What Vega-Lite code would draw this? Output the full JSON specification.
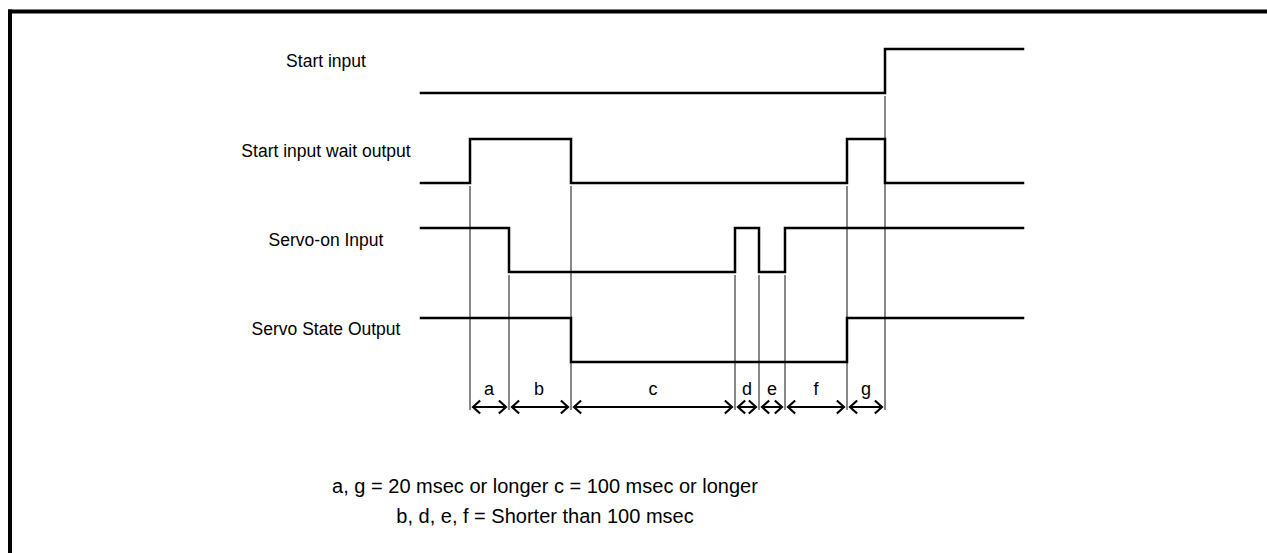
{
  "$schema": "https://vega.github.io/schema/vega-lite/v6.json",
  "width": 1267,
  "height": 553,
  "padding": 0,
  "autosize": {"type": "none"},
  "background": "white",
  "config": {"view": {"stroke": null}},
  "datasets": {
    "signals": [
      {"signal": "Start input", "i": 1, "t": 421, "y": 93},
      {"signal": "Start input", "i": 2, "t": 885, "y": 93},
      {"signal": "Start input", "i": 3, "t": 885, "y": 49},
      {"signal": "Start input", "i": 4, "t": 1023, "y": 49},
      {"signal": "Start input wait output", "i": 1, "t": 421, "y": 183},
      {"signal": "Start input wait output", "i": 2, "t": 470, "y": 183},
      {"signal": "Start input wait output", "i": 3, "t": 470, "y": 139},
      {"signal": "Start input wait output", "i": 4, "t": 571, "y": 139},
      {"signal": "Start input wait output", "i": 5, "t": 571, "y": 183},
      {"signal": "Start input wait output", "i": 6, "t": 847, "y": 183},
      {"signal": "Start input wait output", "i": 7, "t": 847, "y": 139},
      {"signal": "Start input wait output", "i": 8, "t": 885, "y": 139},
      {"signal": "Start input wait output", "i": 9, "t": 885, "y": 183},
      {"signal": "Start input wait output", "i": 10, "t": 1023, "y": 183},
      {"signal": "Servo-on Input", "i": 1, "t": 421, "y": 228},
      {"signal": "Servo-on Input", "i": 2, "t": 509, "y": 228},
      {"signal": "Servo-on Input", "i": 3, "t": 509, "y": 272},
      {"signal": "Servo-on Input", "i": 4, "t": 735, "y": 272},
      {"signal": "Servo-on Input", "i": 5, "t": 735, "y": 228},
      {"signal": "Servo-on Input", "i": 6, "t": 759, "y": 228},
      {"signal": "Servo-on Input", "i": 7, "t": 759, "y": 272},
      {"signal": "Servo-on Input", "i": 8, "t": 785, "y": 272},
      {"signal": "Servo-on Input", "i": 9, "t": 785, "y": 228},
      {"signal": "Servo-on Input", "i": 10, "t": 1023, "y": 228},
      {"signal": "Servo State Output", "i": 1, "t": 421, "y": 318},
      {"signal": "Servo State Output", "i": 2, "t": 571, "y": 318},
      {"signal": "Servo State Output", "i": 3, "t": 571, "y": 362},
      {"signal": "Servo State Output", "i": 4, "t": 847, "y": 362},
      {"signal": "Servo State Output", "i": 5, "t": 847, "y": 318},
      {"signal": "Servo State Output", "i": 6, "t": 1023, "y": 318}
    ],
    "guides": [
      {"t": 470, "y1": 186, "y2": 410},
      {"t": 509, "y1": 275, "y2": 410},
      {"t": 571, "y1": 186, "y2": 410},
      {"t": 735, "y1": 275, "y2": 410},
      {"t": 759, "y1": 275, "y2": 410},
      {"t": 785, "y1": 275, "y2": 410},
      {"t": 847, "y1": 186, "y2": 410},
      {"t": 885, "y1": 96, "y2": 410}
    ],
    "spans": [
      {"label": "a", "t1": 470, "t2": 509, "mid": 489, "y": 407, "ly": 390},
      {"label": "b", "t1": 509, "t2": 571, "mid": 539, "y": 407, "ly": 390},
      {"label": "c", "t1": 571, "t2": 735, "mid": 653, "y": 407, "ly": 390},
      {"label": "d", "t1": 735, "t2": 759, "mid": 747, "y": 407, "ly": 390},
      {"label": "e", "t1": 759, "t2": 785, "mid": 772, "y": 407, "ly": 390},
      {"label": "f", "t1": 785, "t2": 847, "mid": 816, "y": 407, "ly": 390},
      {"label": "g", "t1": 847, "t2": 885, "mid": 866, "y": 407, "ly": 390}
    ],
    "names": [
      {"name": "Start input", "t": 326, "y": 62},
      {"name": "Start input wait output", "t": 326, "y": 152},
      {"name": "Servo-on Input", "t": 326, "y": 241},
      {"name": "Servo State Output", "t": 326, "y": 330}
    ],
    "notes": [
      {"text": "a, g = 20 msec or longer c = 100 msec or longer", "t": 545, "y": 487},
      {"text": "b, d, e, f = Shorter than 100 msec", "t": 545, "y": 517}
    ],
    "frame": [
      {"t1": 8, "t2": 1267, "y1": 11.5, "y2": 11.5},
      {"t1": 10, "t2": 10, "y1": 9.5, "y2": 553}
    ]
  },
  "layer": [
    {
      "data": {"name": "frame"},
      "mark": {"type": "rule", "strokeWidth": 4, "color": "black"},
      "encoding": {
        "x": {"field": "t1", "type": "quantitative", "scale": {"domain": [0, 1267], "nice": false, "zero": false}, "axis": null},
        "x2": {"field": "t2"},
        "y": {"field": "y1", "type": "quantitative", "scale": {"domain": [0, 553], "nice": false, "zero": false, "reverse": true}, "axis": null},
        "y2": {"field": "y2"}
      }
    },
    {
      "data": {"name": "guides"},
      "mark": {"type": "rule", "strokeWidth": 1, "color": "#111"},
      "encoding": {
        "x": {"field": "t", "type": "quantitative"},
        "y": {"field": "y1", "type": "quantitative"},
        "y2": {"field": "y2"}
      }
    },
    {
      "data": {"name": "signals"},
      "mark": {"type": "line", "strokeWidth": 2.5, "color": "black", "strokeJoin": "miter", "strokeCap": "square"},
      "encoding": {
        "x": {"field": "t", "type": "quantitative"},
        "y": {"field": "y", "type": "quantitative"},
        "detail": {"field": "signal"},
        "order": {"field": "i", "type": "quantitative"}
      }
    },
    {
      "data": {"name": "spans"},
      "mark": {"type": "rule", "strokeWidth": 2, "color": "black", "xOffset": 3, "x2Offset": -3},
      "encoding": {
        "x": {"field": "t1", "type": "quantitative"},
        "x2": {"field": "t2"},
        "y": {"field": "y", "type": "quantitative"}
      }
    },
    {
      "data": {"name": "spans"},
      "mark": {"type": "point", "shape": "M 1.1 -1 L 0 0 L 1.1 1", "size": 169, "filled": false, "strokeWidth": 2.2, "color": "black", "opacity": 1, "xOffset": 3},
      "encoding": {
        "x": {"field": "t1", "type": "quantitative"},
        "y": {"field": "y", "type": "quantitative"}
      }
    },
    {
      "data": {"name": "spans"},
      "mark": {"type": "point", "shape": "M -1.1 -1 L 0 0 L -1.1 1", "size": 169, "filled": false, "strokeWidth": 2.2, "color": "black", "opacity": 1, "xOffset": -3},
      "encoding": {
        "x": {"field": "t2", "type": "quantitative"},
        "y": {"field": "y", "type": "quantitative"}
      }
    },
    {
      "data": {"name": "spans"},
      "mark": {"type": "text", "font": "Liberation Sans", "fontSize": 18, "align": "center", "baseline": "middle", "color": "black"},
      "encoding": {
        "x": {"field": "mid", "type": "quantitative"},
        "y": {"field": "ly", "type": "quantitative"},
        "text": {"field": "label"}
      }
    },
    {
      "data": {"name": "names"},
      "mark": {"type": "text", "font": "Liberation Sans", "fontSize": 17.5, "align": "center", "baseline": "middle", "color": "black"},
      "encoding": {
        "x": {"field": "t", "type": "quantitative"},
        "y": {"field": "y", "type": "quantitative"},
        "text": {"field": "name"}
      }
    },
    {
      "data": {"name": "notes"},
      "mark": {"type": "text", "font": "Liberation Sans", "fontSize": 20, "align": "center", "baseline": "middle", "color": "black"},
      "encoding": {
        "x": {"field": "t", "type": "quantitative"},
        "y": {"field": "y", "type": "quantitative"},
        "text": {"field": "text"}
      }
    }
  ]
}
